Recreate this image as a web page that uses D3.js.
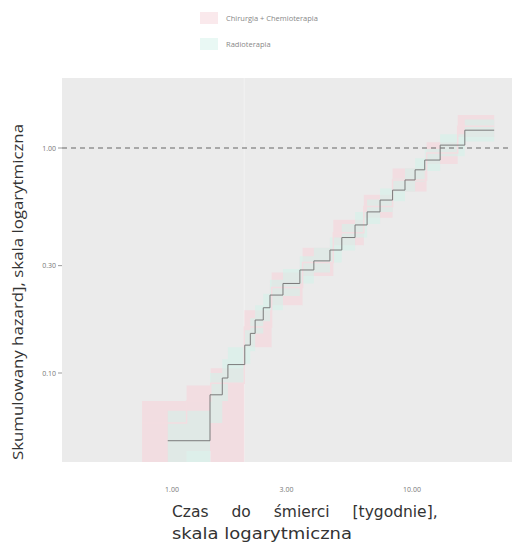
<!DOCTYPE html>
<html>
<head>
<meta charset="utf-8">
<script src="https://cdn.jsdelivr.net/npm/d3@7"></script>
<style>
  body { margin: 0; background: #fff; }
  text { font-family: "Open Sans", sans-serif; }
</style>
</head>
<body>
<script>
// legend labels
const groups = ['Chirurgia + Chemioterapia', 'Radioterapia'];
const groupColors = ['#f6d3da', '#d3f1ea'];

// tick values
const xTicks = [1, 3, 10];
const xTickLabels = ['1.00', '3.00', '10.00'];
const yTicks = [1, 0.3, 0.1];
const yTickLabels = ['1.00', '0.30', '0.10'];

// group 1 (grey step line + teal band)
const timesA = [0.96, 1.44, 1.62, 1.71, 2.01, 2.12, 2.22, 2.4, 2.56, 2.9, 3.41, 3.9, 4.55, 5.1, 5.79, 6.5, 7.36, 8.3, 9.35, 10.3, 11.3, 13.1, 16.6, 22];
const hazA = [0.05, 0.08, 0.095, 0.109, 0.133, 0.15, 0.172, 0.195, 0.222, 0.25, 0.287, 0.315, 0.352, 0.4, 0.455, 0.52, 0.587, 0.65, 0.721, 0.8, 0.884, 1.03, 1.2, 1.2];
const lowA = [0.03, 0.06, 0.075, 0.09, 0.11, 0.125, 0.15, 0.17, 0.19, 0.22, 0.25, 0.28, 0.31, 0.35, 0.4, 0.46, 0.52, 0.58, 0.64, 0.71, 0.79, 0.92, 1.07, 1.07];
const highA = [0.068, 0.1, 0.115, 0.13, 0.155, 0.175, 0.2, 0.225, 0.26, 0.29, 0.33, 0.36, 0.4, 0.46, 0.52, 0.59, 0.66, 0.73, 0.81, 0.9, 0.99, 1.15, 1.34, 1.34];

// group 2 (pink step line + pink band)
const timesB = [0.75, 1.15, 1.45, 2.0, 2.6, 3.5, 4.7, 6.3, 8.3, 11.5, 15.5, 22];
const hazB = [0.06, 0.075, 0.09, 0.16, 0.24, 0.31, 0.42, 0.55, 0.72, 0.95, 1.25, 1.25];
const lowB = [0.035, 0.045, 0.04, 0.13, 0.2, 0.27, 0.37, 0.49, 0.64, 0.85, 1.12, 1.12];
const highB = [0.075, 0.088, 0.105, 0.19, 0.28, 0.36, 0.48, 0.62, 0.81, 1.06, 1.4, 1.4];

const w = 512, h = 545;
const panel = { left: 62, right: 512, top: 78, bottom: 462 };

const svg = d3.select('body').append('svg')
  .attr('width', w)
  .attr('height', h);

const xScale = d3.scaleLog().domain([1, 10]).range([172, 412]);
const yScale = d3.scaleLog().domain([0.1, 1]).range([373, 148]);

svg.append('clipPath').attr('id', 'clip')
  .append('rect')
  .attr('x', panel.left).attr('y', panel.top)
  .attr('width', panel.right - panel.left)
  .attr('height', panel.bottom - panel.top);

// panel background
svg.append('rect')
  .attr('x', panel.left).attr('y', panel.top)
  .attr('width', panel.right - panel.left)
  .attr('height', panel.bottom - panel.top)
  .attr('fill', '#ebebeb');

const g = svg.append('g').attr('clip-path', 'url(#clip)');

// grid
g.selectAll('.vgrid').data([2]).enter().append('line')
  .attr('x1', d => xScale(d)).attr('x2', d => xScale(d))
  .attr('y1', panel.top).attr('y2', panel.bottom)
  .attr('stroke', '#f2f2f2').attr('stroke-width', 1);

// confidence bands
function band(times, low, high, color, op) {
  const rows = times.map((t, i) => ({ t: t, lo: low[i], hi: high[i] }));
  const area = d3.area()
    .curve(d3.curveStepAfter)
    .x(d => xScale(d.t))
    .y0(d => yScale(d.lo))
    .y1(d => yScale(d.hi));
  g.append('path')
    .datum(rows)
    .attr('d', area)
    .attr('fill', color)
    .attr('opacity', op);
}
band(timesB, lowB, highB, groupColors[0], 0.6);
band(timesA, lowA, highA, groupColors[1], 0.6);

// reference line at 1
g.append('line')
  .attr('x1', panel.left).attr('x2', panel.right)
  .attr('y1', yScale(1)).attr('y2', yScale(1))
  .attr('stroke', '#666')
  .attr('stroke-width', 1.2)
  .attr('stroke-dasharray', '5,4');

// step lines
function stepLine(times, haz, color, width) {
  const rows = times.map((t, i) => ({ t: t, v: haz[i] }));
  const line = d3.line()
    .curve(d3.curveStepAfter)
    .x(d => xScale(d.t))
    .y(d => yScale(d.v));
  g.append('path')
    .datum(rows)
    .attr('d', line)
    .attr('fill', 'none')
    .attr('stroke', color)
    .attr('stroke-width', width);
}
stepLine(timesB, hazB, '#f3dde1', 1.5);
stepLine(timesA, hazA, '#7a7a7a', 1);

// y axis ticks
svg.selectAll('.ytick').data(yTicks).enter().append('line')
  .attr('x1', panel.left - 4).attr('x2', panel.left)
  .attr('y1', d => yScale(d)).attr('y2', d => yScale(d))
  .attr('stroke', '#999');
svg.selectAll('.ylab').data(yTicks).enter().append('text')
  .attr('x', panel.left - 6)
  .attr('y', d => yScale(d) + 2.5)
  .attr('text-anchor', 'end')
  .attr('font-size', 7)
  .attr('fill', '#777')
  .text((d, i) => yTickLabels[i]);

// x axis ticks
svg.selectAll('.xlab').data(xTicks).enter().append('text')
  .attr('x', d => xScale(d))
  .attr('y', 492)
  .attr('text-anchor', 'middle')
  .attr('font-size', 7)
  .attr('fill', '#777')
  .text((d, i) => xTickLabels[i]);

// axis titles
svg.append('text')
  .attr('transform', 'translate(23,292) rotate(-90)')
  .attr('text-anchor', 'middle')
  .attr('font-size', 15)
  .attr('textLength', 336)
  .attr('lengthAdjust', 'spacingAndGlyphs')
  .attr('fill', '#333')
  .text('Skumulowany hazard], skala logarytmiczna');

svg.append('text')
  .attr('x', 172).attr('y', 517)
  .attr('font-size', 15.5)
  .style('font-family', '"DejaVu Sans", sans-serif')
  .style('word-spacing', '18px')
  .attr('fill', '#333')
  .text('Czas do śmierci [tygodnie],');
svg.append('text')
  .attr('x', 172).attr('y', 539)
  .attr('font-size', 15.5)
  .style('font-family', '"DejaVu Sans", sans-serif')
  .attr('textLength', 180)
  .attr('lengthAdjust', 'spacingAndGlyphs')
  .attr('fill', '#333')
  .text('skala logarytmiczna');

// legend
const legend = svg.selectAll('.legend').data(groups).enter().append('g')
  .attr('transform', (d, i) => `translate(200, ${12 + i * 26})`);
legend.append('rect')
  .attr('x', 0).attr('y', 0)
  .attr('width', 18).attr('height', 12)
  .attr('fill', (d, i) => groupColors[i])
  .attr('opacity', 0.5);
legend.append('text')
  .attr('x', 26).attr('y', 9)
  .attr('font-size', 7.5)
  .attr('fill', '#888')
  .text(d => d);
</script>
</body>
</html>
